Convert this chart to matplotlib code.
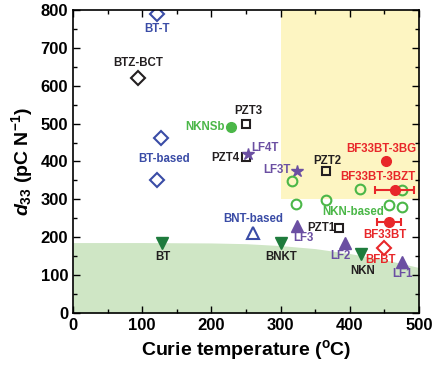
import matplotlib
matplotlib.use('Agg')
import matplotlib.pyplot as plt

plt.rcParams['font.family'] = 'Liberation Sans'
plt.rcParams['font.weight'] = 'bold'
plt.rcParams['mathtext.fontset'] = 'custom'
plt.rcParams['mathtext.rm'] = 'Liberation Sans:bold'
plt.rcParams['mathtext.it'] = 'Liberation Sans:italic:bold'

blue = '#3a4ca6'
green = '#4bb748'
dkgreen = '#1e7b3c'
purple = '#6b4fa2'
red = '#e8272a'
black = '#231f20'

# shaded regions
green_T = [0, 100, 200, 250, 300, 350, 400, 450, 500]
green_d = [186, 186, 185, 183, 178, 170, 157, 141, 120]
yellow_T = [300, 500]
yellow_d = [300, 800]

# points
bt_T, bt_d = [121, 127, 121], [789, 461, 350]          # BT-T, BT-based (open blue diamonds)
btz_T, btz_d = [93.5], [621]                            # BTZ-BCT
pzt_T = [250, 250, 366, 385]                            # PZT3, PZT4, PZT2, PZT1
pzt_d = [499, 411, 374, 225]
nknsb_T, nknsb_d = [228], [491]
lft_T, lft_d = [253, 323], [419, 375]                   # LF4T, LF3T stars
lf_T, lf_d = [323, 393, 475], [230, 184, 135]           # LF3, LF2, LF1
bnt_T, bnt_d = [260], [211]
down_T, down_d = [128, 300, 416], [186, 185, 155]       # BT, BNKT, NKN
nkn_T = [317, 322, 366, 415, 475, 457, 475]
nkn_d = [349, 289, 298, 328, 324, 286, 281]
bf_T = [453, 465, 457]                                  # 3BG, 3BZT, BF33BT
bf_d = [402, 324, 240]
bf_xerr = [0, 28, 17]
bfbt_T, bfbt_d = [450], [171]

labels = [
    ('BT-T', 121, 751, blue, 'center'),
    ('BTZ-BCT', 94, 660, black, 'center'),
    ('PZT3', 253, 534, black, 'center'),
    ('NKNSb', 220, 491, green, 'right'),
    ('BT-based', 131, 406, blue, 'center'),
    ('LF4T', 257, 436, purple, 'left'),
    ('PZT4', 240, 409, black, 'right'),
    ('LF3T', 314, 377, purple, 'right'),
    ('PZT2', 367, 402, black, 'center'),
    ('BF33BT-3BG', 445, 434, red, 'center'),
    ('BF33BT-3BZT', 440, 360, red, 'center'),
    ('NKN-based', 405, 266, green, 'center'),
    ('BF33BT', 450, 206, red, 'center'),
    ('PZT1', 379, 225, black, 'right'),
    ('LF3', 333, 197, purple, 'center'),
    ('BNT-based', 261, 248, blue, 'center'),
    ('BNKT', 301, 147, black, 'center'),
    ('BT', 130, 147, black, 'center'),
    ('LF2', 386, 151, purple, 'center'),
    ('NKN', 419, 112, black, 'center'),
    ('BFBT', 445, 141, red, 'center'),
    ('LF1', 476, 102, purple, 'center'),
]

fig = plt.figure(figsize=(4.33, 3.66), dpi=100)
ax = fig.add_axes([0.1686, 0.1448, 0.7991, 0.8279])

ax.fill_between(green_T, 0, green_d, color='#cfe6c5', lw=0, zorder=0)
ax.fill_between(yellow_T, yellow_d[0], yellow_d[1], color='#fdf5c2', lw=0, zorder=0)

ax.plot(bt_T, bt_d, 'D', ms=7, mfc='none', mec=blue, mew=1.5, ls='none')
ax.plot(btz_T, btz_d, 'D', ms=7, mfc='none', mec=black, mew=1.5, ls='none')
ax.plot(pzt_T, pzt_d, 's', ms=6, mfc='none', mec=black, mew=1.5, ls='none')
ax.plot(nknsb_T, nknsb_d, 'o', ms=7, color=green, ls='none')
ax.plot(lft_T, lft_d, '*', ms=9, color=purple, ls='none')
ax.plot(lf_T, lf_d, '^', ms=8, color=purple, ls='none')
ax.plot(bnt_T, bnt_d, '^', ms=8, mfc='none', mec=blue, mew=1.5, ls='none')
ax.plot(down_T, down_d, 'v', ms=8, color=dkgreen, ls='none')
ax.plot(nkn_T, nkn_d, 'o', ms=7, mfc='none', mec=green, mew=1.5, ls='none')
ax.errorbar(bf_T, bf_d, xerr=bf_xerr, fmt='o', ms=7, color=red, ecolor=red,
            elinewidth=1.5, capsize=3, capthick=1.5, zorder=4)
ax.plot(bfbt_T, bfbt_d, 'D', ms=7, mfc='none', mec=red, mew=1.5, ls='none')

for txt, x, y, c, ha in labels:
    ax.text(x, y, txt, color=c, fontsize=8.3, fontweight='bold', ha=ha, va='center')

ax.set_xlim(0, 500)
ax.set_ylim(0, 800)
ax.set_xticks(range(0, 501, 100))
ax.set_yticks(range(0, 801, 100))
ax.set_xticks(range(50, 500, 100), minor=True)
ax.set_yticks(range(50, 800, 100), minor=True)
ax.tick_params(which='both', direction='in', top=True, right=True, labelsize=12, width=1)
ax.tick_params(which='major', length=5)
ax.tick_params(which='minor', length=3)
for s in ax.spines.values():
    s.set_linewidth(1.2)

ax.set_xlabel('Curie temperature ($^{\\mathrm{o}}$C)', fontsize=14, fontweight='bold')
ax.set_ylabel('$d_{33}$ (pC N$^{\\mathrm{-1}}$)', fontsize=14, fontweight='bold', labelpad=4)

fig.savefig('out.png', dpi=100)
